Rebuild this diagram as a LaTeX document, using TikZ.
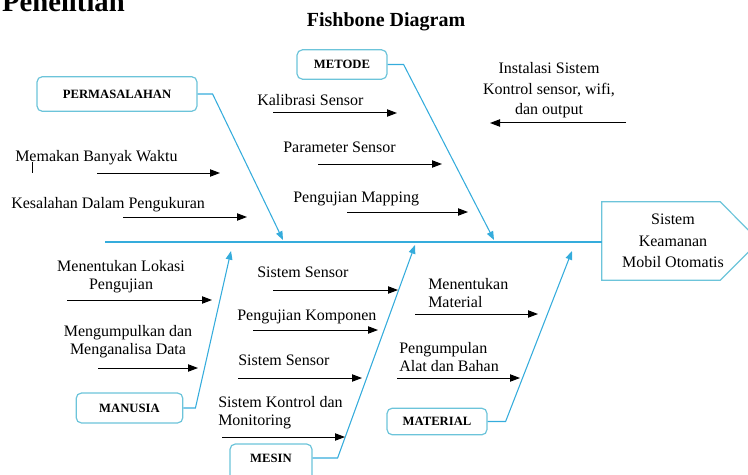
\documentclass[tikz,border=0pt]{standalone}
\usepackage{fontspec}
\setmainfont{Liberation Serif}
\usetikzlibrary{arrows.meta,positioning}
\definecolor{fbBone}{HTML}{35ACDC}
\definecolor{fbBox}{HTML}{6CC4DA}

\begin{document}
\begin{tikzpicture}[x=0.75pt,y=-0.75pt,
    font=\fontsize{12}{13.5}\selectfont,
    catbox/.style={draw=fbBox,fill=white,line width=0.9pt,rounded corners=4pt,
                   font=\fontsize{9.5}{11}\selectfont\bfseries,inner sep=0pt},
    lbl/.style={inner sep=0pt,anchor=base west},
    multi/.style={inner sep=0pt,anchor=north,align=center},
    multil/.style={inner sep=0pt,anchor=north west,align=left},
    bone/.style={-{Triangle[length=6.5pt,width=5pt]},fbBone,line width=0.8pt},
    arr/.style={-{Triangle[length=7.5pt,width=5.5pt]},black,line width=0.75pt}]
  \useasboundingbox (0,0) rectangle (748,474);
  \node[anchor=base east,inner sep=0pt,font=\fontsize{21.5}{24}\selectfont\bfseries] (sec) at (125,12) {Penelitian};
  \node[anchor=base,inner sep=0pt,font=\fontsize{15}{18}\selectfont\bfseries] (title) at (386,27) {Fishbone Diagram};

  \node[catbox,minimum width=120pt,minimum height=26pt] (perm) at (117,94) {PERMASALAHAN};
  \node[catbox,minimum width=67.5pt,minimum height=22pt] (met) at (342,64.5) {METODE};
  \node[catbox,minimum width=80pt,minimum height=22.5pt] (man) at (129.5,408) {MANUSIA};
  \node[catbox,minimum width=61.5pt,minimum height=30pt,text depth=7.8pt] (mes) at (271,464) {MESIN};
  \node[catbox,minimum width=75pt,minimum height=20pt] (mat) at (437,421.5) {MATERIAL};

  \node[minimum width=88.5pt,minimum height=58.5pt,inner sep=0pt] (head) at (661,241) {};
  \draw[fbBox,line width=0.9pt] (head.north east) -- (head.north west) -- (head.south west)
    -- (head.south east) -- ++(39,-39) -- cycle;
  \node[multi,font=\fontsize{12}{16}\selectfont] (headtxt) at (673,214) {Sistem\\Keamanan\\Mobil Otomatis};

  \coordinate (tail) at (105,242);
  \coordinate (c1) at (283,240);
  \coordinate (c2) at (494,240);
  \coordinate (c3) at (231,251);
  \coordinate (c4) at (415,245);
  \coordinate (c5) at (572,251);
  \draw[fbBone,line width=0.8pt] (tail) -- (head.west |- tail);
  \draw[bone] (perm.east) -- ++(15,0) -- (c1);
  \draw[bone] (met.east) -- ++(16,0) -- (c2);
  \draw[bone] (man.east) -- ++(12,0) -- (c3);
  \draw[bone] ([yshift=4.5pt]mes.east) -- ++(25,0) -- (c4);
  \draw[bone] (mat.east) -- ++(18,0) -- (c5);

  \node[lbl] (p1) at (15,161) {Memakan Banyak Waktu};
  \node[lbl] (p2) at (11,208) {Kesalahan Dalam Pengukuran};
  \draw[line width=0.5pt] (32,162) -- (32,173);
  \node[lbl] (m1) at (257,106) {Kalibrasi Sensor};
  \node[lbl] (m2) at (283,152) {Parameter Sensor};
  \node[lbl] (m3) at (293,202) {Pengujian Mapping};
  \node[multi,font=\fontsize{12}{15.5}\selectfont] (m4) at (549,62) {Instalasi Sistem\\Kontrol sensor, wifi,\\dan output};
  \node[multi] (u1) at (121,260) {Menentukan Lokasi\\Pengujian};
  \node[multi] (u2) at (128,325) {Mengumpulkan dan\\Menganalisa Data};
  \node[lbl] (e1) at (257,277) {Sistem Sensor};
  \node[lbl] (e2) at (237,320) {Pengujian Komponen};
  \node[lbl] (e3) at (238,365) {Sistem Sensor};
  \node[multil] (e4) at (218,396) {Sistem Kontrol dan\\Monitoring};
  \node[multil] (t1) at (428,278) {Menentukan\\Material};
  \node[multil] (t2) at (399,342) {Pengumpulan\\Alat dan Bahan};

  \foreach \xa/\xb/\y in {97/220/173,123/247/217,273/397/113,318/442/164,347/468/212,
      626/490/123,67/212/300,98/198/368,273/398/290,253/378/330,238/362/378,
      222/345/437,415/538/314,397/520/378}
    \draw[arr] (\xa,\y) -- (\xb,\y);
\end{tikzpicture}
\end{document}
